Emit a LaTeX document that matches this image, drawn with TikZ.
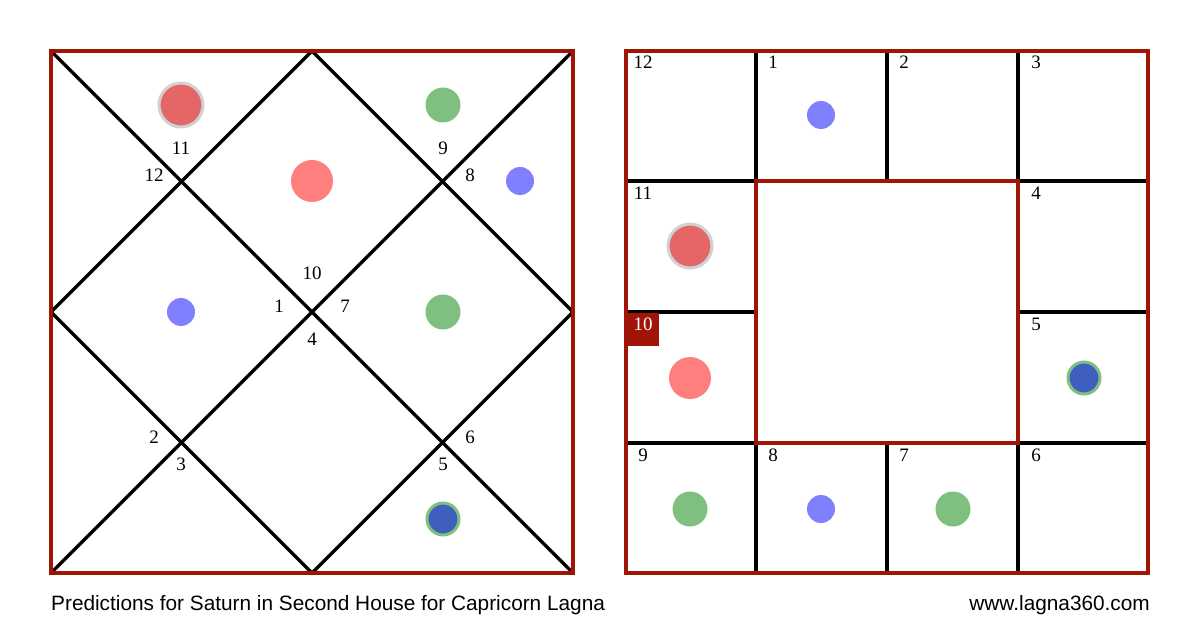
\documentclass[tikz,border=0pt]{standalone}
\usepackage{fontspec}
\setmainfont{Liberation Serif}
\newfontfamily\capfont{Liberation Sans}
\definecolor{chartred}{HTML}{A01508}
\definecolor{sunred}{HTML}{E46666}
\definecolor{lightred}{HTML}{FF7F7F}
\definecolor{planetgreen}{HTML}{7FBF7F}
\definecolor{planetblue}{HTML}{8080FF}
\definecolor{darkblue}{HTML}{3F5FBF}
\tikzset{
  frame/.style={draw=chartred, line width=3.2pt},
  divider/.style={draw=black, line width=3.2pt},
  num/.style={font=\fontsize{19}{19}\selectfont, inner sep=0pt},
  caption/.style={font=\capfont\fontsize{20.8}{21}\selectfont, inner sep=0pt},
  ringred/.style={fill=sunred, draw=black!18, line width=3pt, circle, minimum size=44pt, inner sep=0pt},
  dotred/.style={fill=lightred, circle, minimum size=42pt, inner sep=0pt},
  dotgreen/.style={fill=planetgreen, circle, minimum size=35pt, inner sep=0pt},
  dotblue/.style={fill=planetblue, circle, minimum size=28pt, inner sep=0pt},
  ringblue/.style={fill=darkblue, draw=planetgreen, line width=3pt, circle, minimum size=32pt, inner sep=0pt}
}
\begin{document}
\begin{tikzpicture}[x=1pt, y=-1pt]
  \useasboundingbox (0,0) rectangle (1200,628);

  % north indian chart
  \coordinate (nw) at (51,51);
  \coordinate (ne) at (573,51);
  \coordinate (se) at (573,573);
  \coordinate (sw) at (51,573);
  \coordinate (nm) at (312,51);
  \coordinate (em) at (573,312);
  \coordinate (sm) at (312,573);
  \coordinate (wm) at (51,312);
  \draw[divider] (nw) -- (se);
  \draw[divider] (ne) -- (sw);
  \draw[divider] (nm) -- (em) -- (sm) -- (wm) -- cycle;
  \draw[frame] (nw) rectangle (se);

  \node[num] (l1) at (279,306) {1};
  \node[num] (l2) at (154,437) {2};
  \node[num] (l3) at (181,464) {3};
  \node[num] (l4) at (312,339) {4};
  \node[num] (l5) at (443,464) {5};
  \node[num] (l6) at (470,437) {6};
  \node[num] (l7) at (345,306) {7};
  \node[num] (l8) at (470,175) {8};
  \node[num] (l9) at (443,148) {9};
  \node[num] (l10) at (312,273) {10};
  \node[num] (l11) at (181,148) {11};
  \node[num] (l12) at (154,175) {12};

  \node[ringred] (sun) at (181,105) {};
  \node[dotred] (mars) at (312,181) {};
  \node[dotgreen] (merc) at (443,105) {};
  \node[dotblue] (ven) at (520,181) {};
  \node[dotblue] (moon) at (181,312) {};
  \node[dotgreen] (jup) at (443,312) {};
  \node[ringblue] (sat) at (443,519) {};

  % south indian chart
  \foreach \x in {756,887,1018} {
    \draw[divider] (\x,51) -- (\x,181);
    \draw[divider] (\x,443) -- (\x,573);
  }
  \foreach \y in {181,312,443} {
    \draw[divider] (626,\y) -- (756,\y);
    \draw[divider] (1018,\y) -- (1148,\y);
  }
  \draw[divider] (756,181) -- (1018,181);
  \draw[divider] (756,443) -- (1018,443);
  \draw[frame] (756,181) rectangle (1018,443);
  \draw[frame] (626,51) rectangle (1148,573);

  \node[fill=chartred, minimum width=32pt, minimum height=33pt, inner sep=0pt, anchor=north west] (lagna) at (627,313) {};
  \node[num, text=white] (s10) at (643,324) {10};

  \node[num] (s12) at (643,62) {12};
  \node[num] (s1) at (773,62) {1};
  \node[num] (s2) at (904,62) {2};
  \node[num] (s3) at (1036,62) {3};
  \node[num] (s11) at (643,193) {11};
  \node[num] (s4) at (1036,193) {4};
  \node[num] (s5) at (1036,324) {5};
  \node[num] (s9) at (643,455) {9};
  \node[num] (s8) at (773,455) {8};
  \node[num] (s7) at (904,455) {7};
  \node[num] (s6) at (1036,455) {6};

  \node[dotblue] (ven2) at (821,115) {};
  \node[ringred] (sun2) at (690,246) {};
  \node[dotred] (mars2) at (690,378) {};
  \node[ringblue] (sat2) at (1084,378) {};
  \node[dotgreen] (merc2) at (690,509) {};
  \node[dotblue] (moon2) at (821,509) {};
  \node[dotgreen] (jup2) at (953,509) {};

  \node[caption, anchor=west] (title) at (51,605) {Predictions for Saturn in Second House for Capricorn Lagna};
  \node[caption, anchor=east] (site) at (1150,605) {www.lagna360.com};
\end{tikzpicture}
\end{document}
